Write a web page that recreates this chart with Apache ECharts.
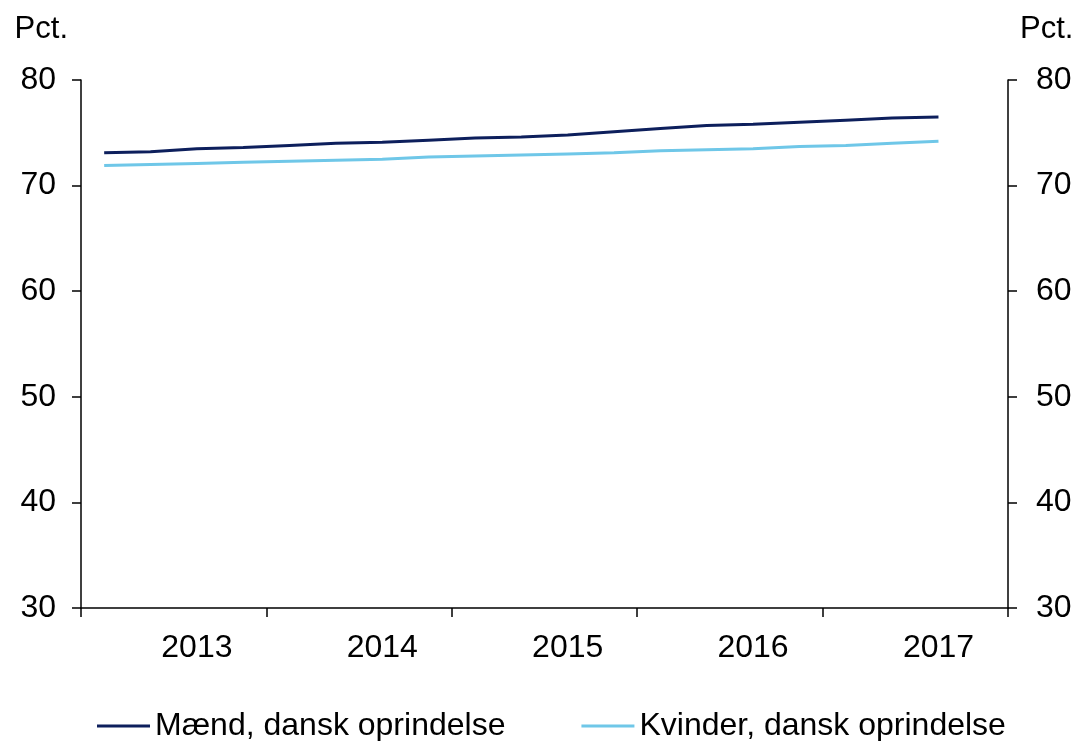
<!DOCTYPE html>
<html>
<head>
<meta charset="utf-8">
<script src="https://cdn.jsdelivr.net/npm/echarts@6/dist/echarts.min.js"></script>
<style>
  html, body { margin: 0; padding: 0; background: #fff; }
  #chart { width: 1078px; height: 741px; }
</style>
</head>
<body>
<div id="chart"></div>
<script>
// kvartaler 2013K1 - 2017K4 (sidste kvartal uden data)
const years = ['2013', '2014', '2015', '2016', '2017']
const quarters = []
years.forEach(y => { for (let q = 1; q <= 4; q++) quarters.push(y + 'K' + q) })

const seriesNames = ['Mænd, dansk oprindelse', 'Kvinder, dansk oprindelse']
const maend = [73.1, 73.2, 73.5, 73.6, 73.8, 74.0, 74.1, 74.3, 74.5, 74.6, 74.8, 75.1,
    75.4, 75.7, 75.8, 76.0, 76.2, 76.4, 76.5]
const kvinder = [71.9, 72.0, 72.1, 72.2, 72.3, 72.4, 72.5, 72.7, 72.8, 72.9, 73.0, 73.1,
    73.3, 73.4, 73.5, 73.7, 73.8, 74.0, 74.2]
const yTicks = { min: 30, max: 80, interval: 10 }

const font = '"Liberation Sans", Arial, sans-serif'
const fs = 32
const chart = echarts.init(document.getElementById('chart'))

const yAxisBase = (side) => ({
    type: 'value',
    position: side,
    min: yTicks.min,
    max: yTicks.max,
    interval: yTicks.interval,
    name: 'Pct.',
    nameLocation: 'end',
    nameGap: 51,
    nameTextStyle: {
        color: '#000',
        fontSize: 31,
        fontFamily: font,
        align: side === 'left' ? 'right' : 'left',
        verticalAlign: 'middle',
        padding: side === 'left' ? [0, 13, 0, 0] : [0, 0, 0, 12]
    },
    axisLine: { show: true, lineStyle: { color: '#000', width: 1.5 } },
    axisTick: { show: true, inside: false, length: 9, lineStyle: { color: '#000', width: 1.5 } },
    axisLabel: { color: '#000', fontSize: fs, fontFamily: font, margin: side === 'left' ? 25 : 28 },
    splitLine: { show: false }
})

const option = {
    animation: false,
    backgroundColor: '#fff',
    textStyle: { fontFamily: font },
    grid: { left: 81, right: 70, top: 80, bottom: 133, containLabel: false },
    legend: {
        data: seriesNames,
        left: 97,
        top: 710,
        padding: 0,
        itemWidth: 53,
        itemHeight: 3,
        itemGap: 76,
        icon: 'rect',
        textStyle: { color: '#000', fontSize: fs, fontFamily: font }
    },
    xAxis: {
        type: 'category',
        data: quarters,
        boundaryGap: true,
        axisLine: { lineStyle: { color: '#000', width: 1.5 } },
        axisTick: {
            show: true,
            length: 9,
            alignWithLabel: false,
            interval: (idx) => idx % 4 === 0,
            lineStyle: { color: '#000', width: 1.5 }
        },
        axisLabel: {
            interval: (idx) => idx % 4 === 2,
            formatter: (v) => v.slice(0, 4),
            color: '#000',
            fontSize: fs,
            fontFamily: font,
            margin: 24
        },
        splitLine: { show: false }
    },
    yAxis: [yAxisBase('left'), yAxisBase('right')],
    series: [
        {
            name: seriesNames[0],
            type: 'line',
            data: maend,
            symbol: 'none',
            lineStyle: { color: '#0d1f5c', width: 3 },
            itemStyle: { color: '#0d1f5c' }
        },
        {
            name: seriesNames[1],
            type: 'line',
            data: kvinder,
            symbol: 'none',
            lineStyle: { color: '#6fc7e8', width: 3 },
            itemStyle: { color: '#6fc7e8' }
        }
    ]
}
chart.setOption(option)
</script>
</body>
</html>
